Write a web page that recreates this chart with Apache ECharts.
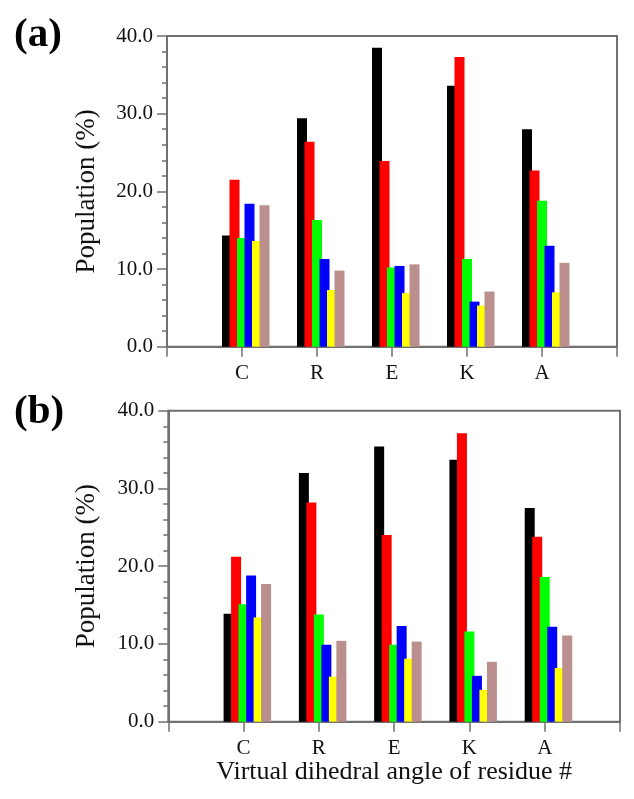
<!DOCTYPE html>
<html><head><meta charset="utf-8">
<script src="https://cdn.jsdelivr.net/npm/echarts@6/dist/echarts.min.js"></script>
<style>html,body{margin:0;padding:0;background:#fff}#c{width:634px;height:799px}</style>
</head><body><div id="c"></div>
<script>
// ---- data ----
const categories = ['C', 'R', 'E', 'K', 'A'];
const barColors = ['#000000', '#ff0000', '#00ff00', '#0000ff', '#ffff00', '#bc8f8f'];

// panel (a)
const a_black  = [14.3, 29.4, 38.5, 33.6, 28.0];
const a_red    = [21.5, 26.4, 23.9, 37.3, 22.7];
const a_green  = [14.0, 16.3, 10.2, 11.3, 18.8];
const a_blue   = [18.4, 11.3, 10.4, 5.8, 13.0];
const a_yellow = [13.6, 7.3, 6.9, 5.3, 7.0];
const a_brown  = [18.2, 9.8, 10.6, 7.1, 10.8];

// panel (b)
const b_black  = [13.9, 32.0, 35.4, 33.7, 27.5];
const b_red    = [21.2, 28.2, 24.0, 37.1, 23.8];
const b_green  = [15.1, 13.8, 9.9, 11.6, 18.6];
const b_blue   = [18.8, 9.9, 12.3, 5.9, 12.2];
const b_yellow = [13.4, 5.8, 8.1, 4.1, 6.9];
const b_brown  = [17.7, 10.4, 10.3, 7.7, 11.1];

const panelA = [a_black, a_red, a_green, a_blue, a_yellow, a_brown];
const panelB = [b_black, b_red, b_green, b_blue, b_yellow, b_brown];

// ---- style ----
const AX = '#707070';
const FONT = "'Liberation Serif', 'DejaVu Serif', serif";
const BAR_W = 10, BAR_STEP = 7.5, BAR_START = -20;

function makeRender(k, color) {
  return function (params, api) {
    const x = api.value(0), v = api.value(1);
    const p0 = api.coord([x, 0]);
    const p1 = api.coord([x, v]);
    return {
      type: 'rect',
      shape: { x: p0[0] + BAR_START + k * BAR_STEP, y: p1[1], width: BAR_W, height: p0[1] - p1[1] },
      style: { fill: color }
    };
  };
}

function xAxis(gi, withName) {
  const ax = {
    type: 'value', gridIndex: gi, min: 0, max: categories.length + 1, interval: 1,
    axisLine: { show: true, onZero: false, lineStyle: { color: AX, width: 2 } },
    axisTick: { show: true, length: 10, lineStyle: { color: AX, width: 1.5 } },
    splitLine: { show: false },
    axisLabel: {
      margin: 16, fontFamily: FONT, fontSize: 21, color: '#111',
      formatter: v => categories[v - 1] || ''
    }
  };
  if (withName) {
    ax.name = 'Virtual dihedral angle of residue #';
    ax.nameLocation = 'middle';
    ax.nameGap = 37;
    ax.nameTextStyle = { fontFamily: FONT, fontSize: 26, color: '#111' };
  }
  return ax;
}

function yAxis(gi, gap) {
  return {
    type: 'value', gridIndex: gi, min: 0, max: 40, interval: 10,
    name: 'Population (%)', nameLocation: 'middle', nameGap: gap,
    nameTextStyle: { fontFamily: FONT, fontSize: 27, color: '#111' },
    axisLine: { show: true, lineStyle: { color: AX, width: 2 } },
    axisTick: { show: true, length: 10, lineStyle: { color: AX, width: 1.5 } },
    minorTick: { show: true, splitNumber: 5, length: 5, lineStyle: { color: AX, width: 1.5 } },
    splitLine: { show: false },
    axisLabel: { margin: 14, fontFamily: FONT, fontSize: 21, color: '#111', formatter: v => v.toFixed(1) }
  };
}

const series = [];
[panelA, panelB].forEach((panel, gi) => {
  panel.forEach((arr, k) => {
    series.push({
      type: 'custom', xAxisIndex: gi, yAxisIndex: gi,
      data: arr.map((v, i) => [i + 1, v]),
      encode: { x: 0, y: 1 },
      renderItem: makeRender(k, barColors[k]),
      clip: false
    });
  });
});

const chart = echarts.init(document.getElementById('c'), null, { renderer: 'canvas' });
chart.setOption({
  animation: false,
  backgroundColor: '#ffffff',
  grid: [
    { left: 167, top: 36, width: 450, height: 310.7, show: true, borderColor: AX, borderWidth: 2, backgroundColor: 'transparent' },
    { left: 168.3, top: 410.7, width: 451.7, height: 311, show: true, borderColor: AX, borderWidth: 2, backgroundColor: 'transparent' }
  ],
  xAxis: [xAxis(0, false), xAxis(1, true)],
  yAxis: [yAxis(0, 67), yAxis(1, 68)],
  graphic: [
    { type: 'text', left: 14, top: 15, style: { text: '(a)', font: "bold 41px 'Liberation Serif'", fill: '#000' } },
    { type: 'text', left: 14, top: 392, style: { text: '(b)', font: "bold 41px 'Liberation Serif'", fill: '#000' } }
  ],
  series: series
});
</script>
</body></html>
